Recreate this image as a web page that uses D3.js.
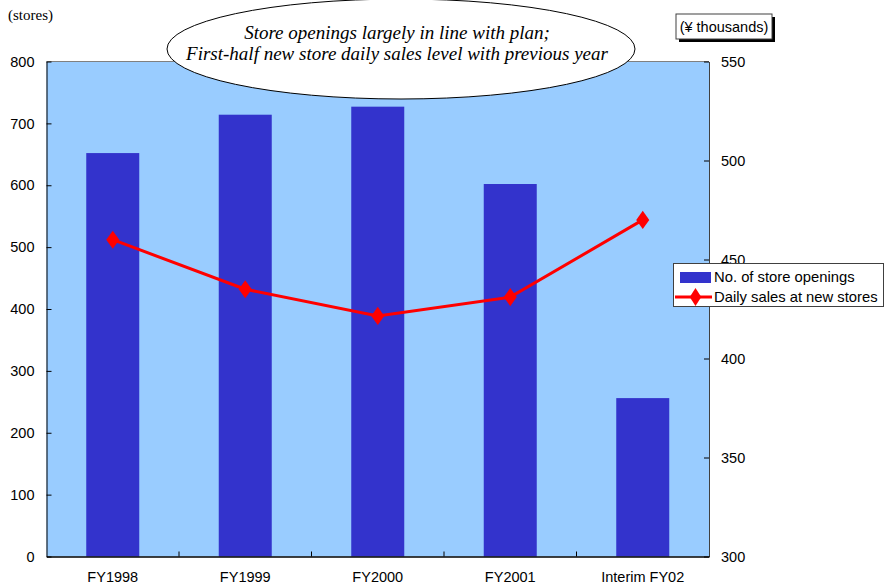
<!DOCTYPE html>
<html><head><meta charset="utf-8">
<script src="https://cdn.jsdelivr.net/npm/d3@7"></script>
<style>body{margin:0;background:#fff}</style>
</head><body>
<script>
const categories = ["FY1998","FY1999","FY2000","FY2001","Interim FY02"];
const storeOpenings = [652, 714, 727, 602, 256];
const dailySales = [460, 435, 421.5, 431, 470];
const leftTicks = [0,100,200,300,400,500,600,700,800];
const rightTicks = [300,350,400,450,500,550];
const titleLines = ["Store openings largely in line with plan;","First-half new store daily sales level with previous year"];
const seriesNames = ["No. of store openings","Daily sales at new stores"];

const W=885,H=587;
const svg=d3.select("body").append("svg").attr("width",W).attr("height",H);
const L=46.5,R=709,T=61.5,B=556.5;
const x=d3.scaleBand().domain(categories).range([L,R]).padding(0);
const yL=d3.scaleLinear().domain([0,800]).range([B,T]);
const yR=d3.scaleLinear().domain([300,550]).range([B,T]);

svg.append("rect").attr("x",L).attr("y",T).attr("width",R-L).attr("height",B-T).attr("fill","#99CCFF");
svg.append("line").attr("x1",L).attr("x2",R).attr("y1",T).attr("y2",T).attr("stroke","#808080");

const bw=x.bandwidth()*0.4;
svg.selectAll("rect.bar").data(storeOpenings).enter().append("rect").attr("class","bar")
 .attr("x",(d,i)=>x(categories[i])+x.bandwidth()/2-bw/2).attr("width",bw)
 .attr("y",d=>yL(d)).attr("height",d=>yL(0)-yL(d)).attr("fill","#3333CC");

const font="Arial, 'Liberation Sans', sans-serif";
const serif="'Liberation Serif','Times New Roman',serif";
// left axis
const gl=svg.append("g").attr("transform",`translate(${L},0)`).call(d3.axisLeft(yL).tickValues(leftTicks).tickSizeInner(-5).tickSizeOuter(0).tickPadding(12));
gl.select(".domain").attr("stroke","#000");
gl.selectAll("line").attr("stroke","#000");
gl.selectAll("text").attr("font-family",font).attr("font-size",14.5).attr("fill","#000");
// right axis
const gr=svg.append("g").attr("transform",`translate(${R},0)`).call(d3.axisRight(yR).tickValues(rightTicks).tickSizeInner(-5).tickSizeOuter(0).tickPadding(12));
gr.select(".domain").attr("stroke","#404040");
gr.selectAll("line").attr("stroke","#000");
gr.selectAll("text").attr("font-family",font).attr("font-size",14.5).attr("fill","#000");
// bottom axis
const gb=svg.append("g").attr("transform",`translate(0,${B})`).call(d3.axisBottom(x).tickSize(0).tickPadding(15));
gb.select(".domain").attr("stroke","#000").attr("stroke-width",1.5);
gb.selectAll("text").attr("font-family",font).attr("font-size",14.5).attr("fill","#000");
const bounds=categories.slice(1).map(c=>x(c));
svg.selectAll("line.xt").data(bounds).enter().append("line").attr("x1",d=>d).attr("x2",d=>d).attr("y1",B).attr("y2",B-5).attr("stroke","#000");

// line series
const line=d3.line().x((d,i)=>x(categories[i])+x.bandwidth()/2).y(d=>yR(d));
svg.append("path").datum(dailySales).attr("d",line).attr("fill","none").attr("stroke","#FF0000").attr("stroke-width",3);
const diamond=d3.symbol().type(d3.symbolDiamond).size(95);
svg.selectAll("path.m").data(dailySales).enter().append("path").attr("class","m")
 .attr("d",diamond).attr("transform",(d,i)=>`translate(${x(categories[i])+x.bandwidth()/2},${yR(d)}) scale(1.25,1)`).attr("fill","#FF0000");

// labels
svg.append("text").attr("x",8).attr("y",20).attr("font-family",serif).attr("font-size",15).text("(stores)");
svg.append("rect").attr("x",679).attr("y",17).attr("width",96).attr("height",25).attr("fill","#000");
svg.append("rect").attr("x",676).attr("y",14).attr("width",96).attr("height",25).attr("fill","#fff").attr("stroke","#404040");
svg.append("text").attr("x",724).attr("y",32).attr("text-anchor","middle").attr("font-family",font).attr("font-size",14.5).text("(¥ thousands)");

// title ellipse
svg.append("ellipse").attr("cx",401).attr("cy",49).attr("rx",234).attr("ry",50).attr("fill","#fff").attr("stroke","#000");
svg.selectAll("text.t").data(titleLines).enter().append("text").attr("class","t")
 .attr("x",397).attr("y",(d,i)=>38.5+i*21.5).attr("text-anchor","middle")
 .attr("font-family",serif).attr("font-style","italic").attr("font-size",19).text(d=>d);

// legend
const lg=svg.append("g");
lg.append("rect").attr("x",673.5).attr("y",263.5).attr("width",210).attr("height",43).attr("fill","#fff").attr("stroke","#404040");
lg.append("rect").attr("x",680).attr("y",272).attr("width",31).attr("height",11).attr("fill","#3333CC");
lg.append("line").attr("x1",675).attr("x2",712).attr("y1",297).attr("y2",297).attr("stroke","#FF0000").attr("stroke-width",3);
lg.append("path").attr("d",diamond).attr("transform","translate(695.5,297) scale(1.1,1)").attr("fill","#FF0000");
lg.selectAll("text").data(seriesNames).enter().append("text").attr("x",714).attr("y",(d,i)=>282+i*20)
 .attr("font-family",font).attr("font-size",14.8).text(d=>d);
</script>
</body></html>
